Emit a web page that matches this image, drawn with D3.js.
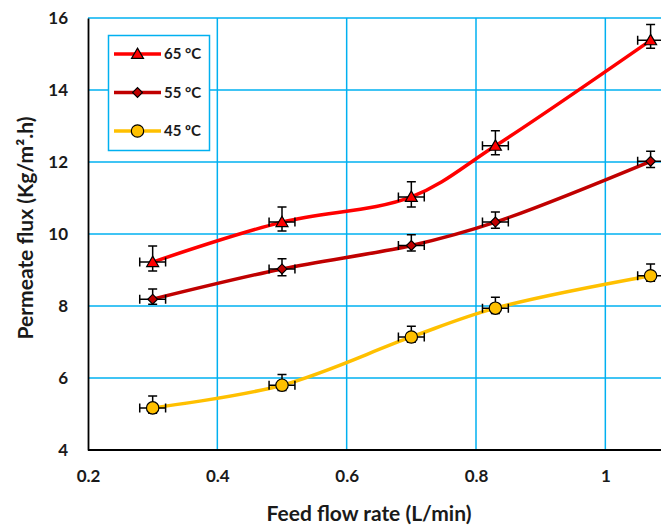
<!DOCTYPE html>
<html>
<head>
<meta charset="utf-8">
<script src="https://cdn.jsdelivr.net/npm/d3@7"></script>
<style>
  html, body { margin: 0; padding: 0; background: #fff; }
  svg { display: block; }
  text { font-family: Lato, "Open Sans", sans-serif; font-weight: 700; fill: #1a1a1a; }
</style>
</head>
<body>
<svg id="chart" width="661" height="525"></svg>
<script>
// Feed flow rates (L/min)
const flowRates = [0.3, 0.5, 0.7, 0.83, 1.07];

// Permeate flux (Kg/m².h) per feed temperature
const flux65 = [9.22, 10.33, 11.03, 12.45, 15.38];
const flux55 = [8.19, 9.03, 9.68, 10.33, 12.02];
const flux45 = [5.17, 5.8, 7.14, 7.94, 8.84];

// Error bars: upper / lower flux deviation, and flow-rate deviation
const err65Up = [0.45, 0.42, 0.42, 0.42, 0.44];
const err65Down = [0.25, 0.25, 0.28, 0.25, 0.22];
const err55Up = [0.28, 0.28, 0.3, 0.28, 0.28];
const err55Down = [0.14, 0.19, 0.15, 0.17, 0.17];
const err45Up = [0.33, 0.3, 0.3, 0.3, 0.33];
const err45Down = [0.15, 0.15, 0.15, 0.15, 0.15];
const flowErr = [0.02, 0.02, 0.02, 0.02, 0.02];

const seriesNames = ["65 °C", "55 °C", "45 ºC"];

// Axis ticks
const xTicks = [0.2, 0.4, 0.6, 0.8, 1];
const yTicks = [4, 6, 8, 10, 12, 14, 16];

const series = [
  { name: seriesNames[0], values: flux65, up: err65Up, down: err65Down, line: "#FF0000", fill: "#FF0000", shape: "triangle" },
  { name: seriesNames[1], values: flux55, up: err55Up, down: err55Down, line: "#C00000", fill: "#C00000", shape: "diamond" },
  { name: seriesNames[2], values: flux45, up: err45Up, down: err45Down, line: "#FFC000", fill: "#FFC000", shape: "circle" }
];

const svg = d3.select("#chart");
const plot = { left: 88, top: 18, bottom: 450, right: 670 };

const x = d3.scaleLinear().domain([0.2, 1.1]).range([plot.left, plot.right]);
const y = d3.scaleLinear().domain([4, 16]).range([plot.bottom, plot.top]);

const grid = "#00B0F0";

// Gridlines
svg.append("g").selectAll("line").data(xTicks.slice(1)).join("line")
  .attr("x1", d => x(d)).attr("x2", d => x(d))
  .attr("y1", plot.top).attr("y2", plot.bottom)
  .attr("stroke", grid).attr("stroke-width", 1.5);
svg.append("g").selectAll("line").data(yTicks.slice(1)).join("line")
  .attr("x1", plot.left).attr("x2", plot.right)
  .attr("y1", d => y(d)).attr("y2", d => y(d))
  .attr("stroke", grid).attr("stroke-width", 1.5);

// Axes
const xAxis = svg.append("g").attr("transform", `translate(0,${plot.bottom})`)
  .call(d3.axisBottom(x).tickValues(xTicks).tickSize(0).tickPadding(20).tickFormat(d => d3.format("")(d)));
const yAxis = svg.append("g").attr("transform", `translate(${plot.left},0)`)
  .call(d3.axisLeft(y).tickValues(yTicks).tickSize(0).tickPadding(20));
[xAxis, yAxis].forEach(a => {
  a.select(".domain").attr("stroke", "#000").attr("stroke-width", 1.8);
  a.selectAll("text").style("font-size", "17px").style("font-family", "Lato, sans-serif").style("font-weight", "700").attr("fill", "#1a1a1a");
});
xAxis.select(".domain").attr("d", `M${plot.left},0H${plot.right}`);

// Smoothed series lines
const lineGen = d3.line()
  .x((d, i) => x(flowRates[i]))
  .y(d => y(d))
  .curve(d3.curveCatmullRom.alpha(0.5));

series.forEach(s => {
  svg.append("path").datum(s.values)
    .attr("d", lineGen)
    .attr("fill", "none")
    .attr("stroke", s.line)
    .attr("stroke-width", 3.5)
    .attr("stroke-linecap", "round");
});

// Error bars
const cap = 4.5;
series.forEach(s => {
  const g = svg.append("g").attr("stroke", "#000").attr("stroke-width", 1.5).attr("fill", "none");
  s.values.forEach((v, i) => {
    const cx = x(flowRates[i]);
    const yTop = y(v + s.up[i]), yBot = y(v - s.down[i]);
    const xL = x(flowRates[i] - flowErr[i]), xR = x(flowRates[i] + flowErr[i]);
    const cy = y(v);
    g.append("path").attr("d",
      `M${cx},${yTop}V${yBot}M${cx - cap},${yTop}H${cx + cap}M${cx - cap},${yBot}H${cx + cap}` +
      `M${xL},${cy}H${xR}M${xL},${cy - cap}V${cy + cap}M${xR},${cy - cap}V${cy + cap}`);
  });
});

// Markers
const symbolFor = {
  triangle: d3.symbol().type(d3.symbolTriangle).size(62),
  diamond: d3.symbol().type(d3.symbolSquare).size(48),
  circle: d3.symbol().type(d3.symbolCircle).size(120)
};
function drawMarker(sel, s, cx, cy) {
  const p = sel.append("path")
    .attr("d", symbolFor[s.shape]())
    .attr("fill", s.fill)
    .attr("stroke", "#000")
    .attr("stroke-width", 1.2);
  if (s.shape === "diamond") p.attr("transform", `translate(${cx},${cy}) rotate(45)`);
  else if (s.shape === "triangle") p.attr("transform", `translate(${cx},${cy + 1})`);
  else p.attr("transform", `translate(${cx},${cy})`);
}
series.forEach(s => {
  const g = svg.append("g");
  s.values.forEach((v, i) => drawMarker(g, s, x(flowRates[i]), y(v)));
});

// Legend
const legend = svg.append("g");
legend.append("rect")
  .attr("x", 108.5).attr("y", 35.5).attr("width", 101).attr("height", 115)
  .attr("fill", "#fff").attr("stroke", grid).attr("stroke-width", 1.5);
series.forEach((s, i) => {
  const ly = 54 + i * 38.5;
  legend.append("line")
    .attr("x1", 114).attr("x2", 161).attr("y1", ly).attr("y2", ly)
    .attr("stroke", s.line).attr("stroke-width", 3.5);
  drawMarker(legend, s, 137.5, ly);
  legend.append("text")
    .attr("x", 164).attr("y", ly).attr("dy", "0.36em")
    .style("font-size", "15px")
    .text(s.name);
});

// Axis titles
svg.append("text")
  .attr("x", 369).attr("y", 521)
  .attr("text-anchor", "middle")
  .style("font-size", "21px")
  .text("Feed flow rate (L/min)");
svg.append("text")
  .attr("transform", "translate(33,228) rotate(-90)")
  .attr("text-anchor", "middle")
  .style("font-size", "21px")
  .text("Permeate flux (Kg/m².h)");
</script>
</body>
</html>
